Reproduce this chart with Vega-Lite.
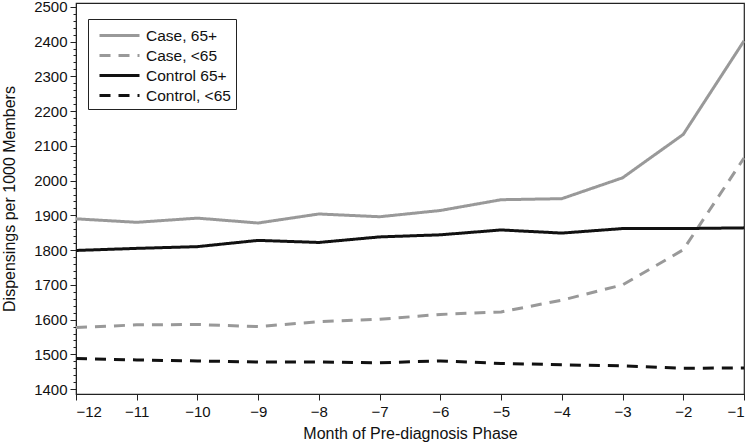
{
  "$schema": "https://vega.github.io/schema/vega-lite/v6.json",
  "autosize": "none",
  "width": 668,
  "height": 391,
  "padding": {"left": 76, "top": 3, "right": 2, "bottom": 50},
  "background": "white",
  "config": {
    "view": {"stroke": "#222", "strokeWidth": 1.2},
    "font": "Liberation Sans",
    "axis": {"domainColor": "#222", "tickColor": "#222", "labelColor": "#111", "titleColor": "#111", "grid": false, "labelFont": "Liberation Sans", "titleFont": "Liberation Sans", "titleFontWeight": "normal", "labelFontSize": 15, "titleFontSize": 16}
  },
  "data": {
    "values": [
      {"month": -12, "series": "Case, 65+", "value": 1890},
      {"month": -11, "series": "Case, 65+", "value": 1880},
      {"month": -10, "series": "Case, 65+", "value": 1892},
      {"month": -9, "series": "Case, 65+", "value": 1878},
      {"month": -8, "series": "Case, 65+", "value": 1904},
      {"month": -7, "series": "Case, 65+", "value": 1896},
      {"month": -6, "series": "Case, 65+", "value": 1914},
      {"month": -5, "series": "Case, 65+", "value": 1945},
      {"month": -4, "series": "Case, 65+", "value": 1948},
      {"month": -3, "series": "Case, 65+", "value": 2008},
      {"month": -2, "series": "Case, 65+", "value": 2133},
      {"month": -1, "series": "Case, 65+", "value": 2402},
      {"month": -12, "series": "Case, <65", "value": 1577},
      {"month": -11, "series": "Case, <65", "value": 1585},
      {"month": -10, "series": "Case, <65", "value": 1586},
      {"month": -9, "series": "Case, <65", "value": 1580},
      {"month": -8, "series": "Case, <65", "value": 1594},
      {"month": -7, "series": "Case, <65", "value": 1601},
      {"month": -6, "series": "Case, <65", "value": 1615},
      {"month": -5, "series": "Case, <65", "value": 1622},
      {"month": -4, "series": "Case, <65", "value": 1656},
      {"month": -3, "series": "Case, <65", "value": 1700},
      {"month": -2, "series": "Case, <65", "value": 1801},
      {"month": -1, "series": "Case, <65", "value": 2065},
      {"month": -12, "series": "Control 65+", "value": 1799},
      {"month": -11, "series": "Control 65+", "value": 1805},
      {"month": -10, "series": "Control 65+", "value": 1810},
      {"month": -9, "series": "Control 65+", "value": 1828},
      {"month": -8, "series": "Control 65+", "value": 1822},
      {"month": -7, "series": "Control 65+", "value": 1838},
      {"month": -6, "series": "Control 65+", "value": 1844},
      {"month": -5, "series": "Control 65+", "value": 1858},
      {"month": -4, "series": "Control 65+", "value": 1849},
      {"month": -3, "series": "Control 65+", "value": 1862},
      {"month": -2, "series": "Control 65+", "value": 1862},
      {"month": -1, "series": "Control 65+", "value": 1864},
      {"month": -12, "series": "Control, <65", "value": 1488},
      {"month": -11, "series": "Control, <65", "value": 1484},
      {"month": -10, "series": "Control, <65", "value": 1481},
      {"month": -9, "series": "Control, <65", "value": 1478},
      {"month": -8, "series": "Control, <65", "value": 1478},
      {"month": -7, "series": "Control, <65", "value": 1476},
      {"month": -6, "series": "Control, <65", "value": 1481},
      {"month": -5, "series": "Control, <65", "value": 1474},
      {"month": -4, "series": "Control, <65", "value": 1470},
      {"month": -3, "series": "Control, <65", "value": 1467},
      {"month": -2, "series": "Control, <65", "value": 1460},
      {"month": -1, "series": "Control, <65", "value": 1461}
    ]
  },
  "mark": {"type": "line", "strokeWidth": 3, "strokeCap": "butt"},
  "encoding": {
    "x": {
      "field": "month", "type": "quantitative",
      "scale": {"domain": [-12, -1], "nice": false, "zero": false},
      "axis": {"values": [-12, -11, -10, -9, -8, -7, -6, -5, -4, -3, -2, -1], "format": "d", "tickSize": 6, "labelPadding": 4, "title": "Month of Pre-diagnosis Phase", "titlePadding": 6}
    },
    "y": {
      "field": "value", "type": "quantitative",
      "scale": {"domain": [1386, 2511], "nice": false, "zero": false},
      "axis": {
        "values": [1400,1420,1440,1460,1480,1500,1520,1540,1560,1580,1600,1620,1640,1660,1680,1700,1720,1740,1760,1780,1800,1820,1840,1860,1880,1900,1920,1940,1960,1980,2000,2020,2040,2060,2080,2100,2120,2140,2160,2180,2200,2220,2240,2260,2280,2300,2320,2340,2360,2380,2400,2420,2440,2460,2480,2500],
        "labelExpr": "datum.value % 100 === 0 ? format(datum.value, 'd') : ''",
        "tickSize": {"condition": {"test": "datum.value % 100 === 0", "value": 6}, "value": 3},
        "labelPadding": 3,
        "title": "Dispensings per 1000 Members",
        "titlePadding": 16
      }
    },
    "color": {
      "field": "series", "type": "nominal",
      "scale": {"domain": ["Case, 65+", "Case, <65", "Control 65+", "Control, <65"], "range": ["#999999", "#999999", "#111111", "#111111"]},
      "legend": {"title": null, "orient": "none", "legendX": 12, "legendY": 16, "strokeColor": "#222", "padding": 5, "fillColor": "white", "symbolType": "M-0.5,0H3.5", "symbolSize": 400, "symbolStrokeWidth": 3, "labelFontSize": 15.5, "labelFont": "Liberation Sans", "labelColor": "#111", "rowPadding": -1, "labelOffset": 30}
    },
    "strokeDash": {
      "field": "series", "type": "nominal",
      "scale": {"domain": ["Case, 65+", "Case, <65", "Control 65+", "Control, <65"], "range": [[1, 0], [11, 8], [1, 0], [11, 8]]},
      "legend": {"title": null, "orient": "none", "legendX": 12, "legendY": 16, "strokeColor": "#222", "padding": 5, "fillColor": "white", "symbolType": "M-0.5,0H3.5", "symbolSize": 400, "symbolStrokeWidth": 3, "labelFontSize": 15.5, "labelFont": "Liberation Sans", "labelColor": "#111", "rowPadding": -1, "labelOffset": 30}
    }
  }
}
